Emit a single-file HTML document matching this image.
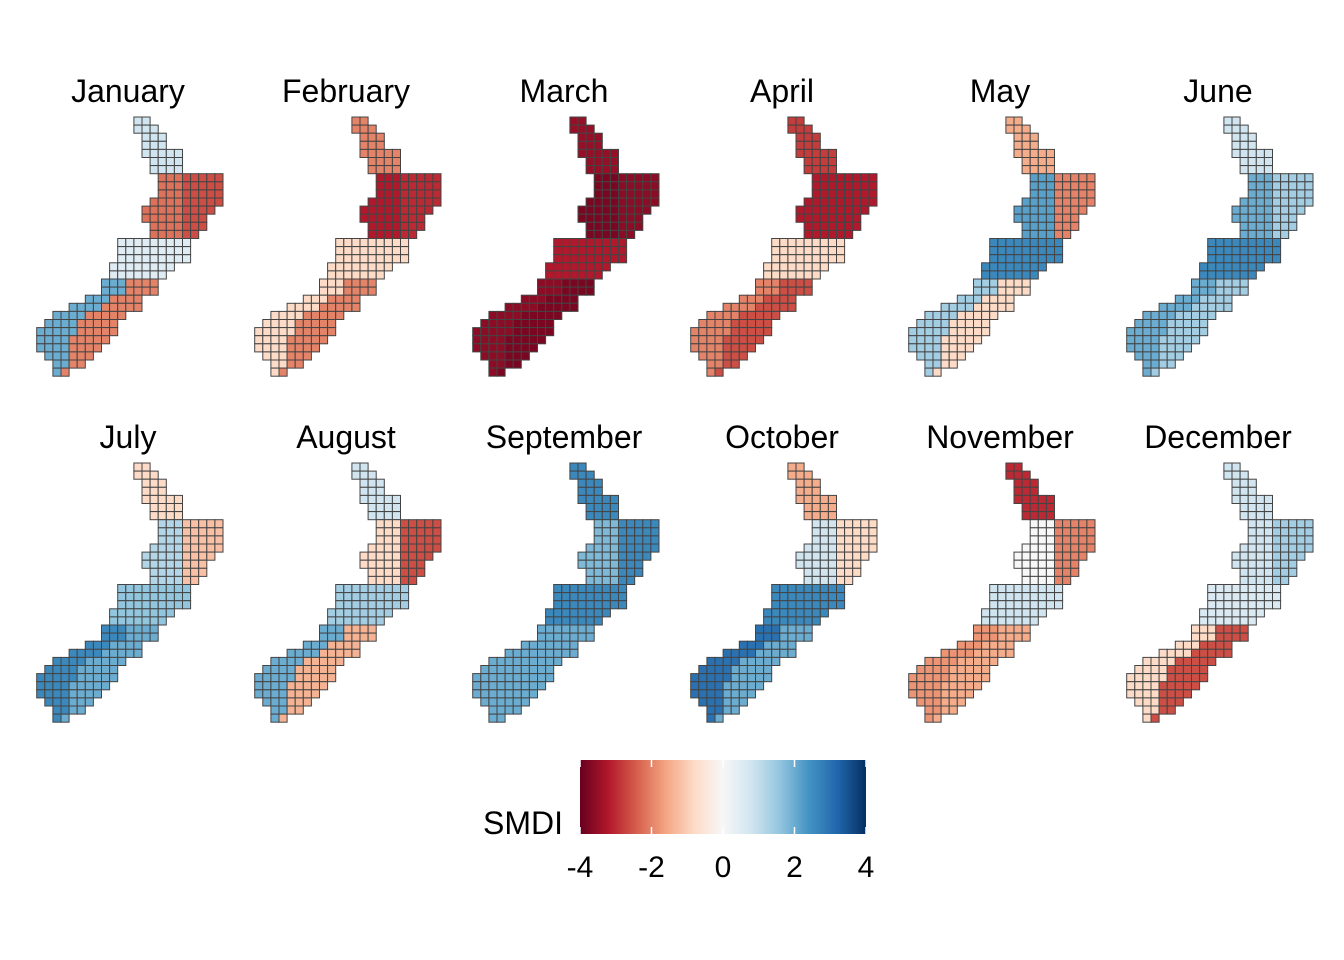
<!DOCTYPE html>
<html><head><meta charset="utf-8"><style>
body{margin:0;background:#fff;}
svg{display:block;font-family:"Liberation Sans",Arial,sans-serif;}
</style></head><body>
<svg id="chart" width="1344" height="960" viewBox="0 0 1344 960" xmlns="http://www.w3.org/2000/svg">
<defs>
<linearGradient id="cbar" x1="0" x2="1" y1="0" y2="0">
<stop offset="0" stop-color="#67001f"/><stop offset="0.1" stop-color="#b2182b"/><stop offset="0.2" stop-color="#d6604d"/><stop offset="0.3" stop-color="#f4a582"/><stop offset="0.4" stop-color="#fddbc7"/><stop offset="0.5" stop-color="#f7f7f7"/><stop offset="0.6" stop-color="#d1e5f0"/><stop offset="0.7" stop-color="#92c5de"/><stop offset="0.8" stop-color="#4393c3"/><stop offset="0.9" stop-color="#2166ac"/><stop offset="1" stop-color="#053061"/>
</linearGradient>
</defs>
<g id="panels"></g>
<g id="legend">
<rect x="580" y="760" width="286" height="74" fill="url(#cbar)"/>
<text x="563" y="834" font-size="32" text-anchor="end">SMDI</text>
<g id="cticks"></g>
</g>
</svg>
<script>
const months=["January","February","March","April","May","June","July","August","September","October","November","December"];
// region values: tip, north-island-west, north-island-east, south-north, south-west, south-east
const tipVals=[0.8,-2,-3.5,-2.8,-1.5,0.8,-0.8,0.8,2.6,-1.5,-3,0.8];
const niWestVals=[-2.2,-3.2,-3.8,-3.2,2.2,2,1.2,-0.8,1.8,0.8,0,0.8];
const niEastVals=[-2.6,-3,-3.6,-3.2,-2,1.4,-1.2,-2.6,2.6,-0.8,-2,1.4];
const siNorthVals=[0.5,-0.8,-3.2,-0.8,2.6,2.6,1.6,1.4,2.6,2.6,0.8,0.6];
const siWestVals=[2,-0.8,-3.6,-2,1.4,2,2.6,2,2,3,-1.8,-0.8];
const siEastVals=[-2,-2,-3.8,-2.6,-0.8,1.4,2,-1.4,2,2,-1.5,-2.6];
const tickVals=[-4,-2,0,2,4];
const tickLabels=["-4","-2","0","2","4"];
// grid mask rows [startCol,endCol]
const rows=[[12,13],[12,14],[13,15],[13,15],[13,17],[14,17],[14,17],[15,22],[15,22],[15,22],[14,22],[13,21],[13,20],[14,20],[14,19],[10,18],[10,18],[10,18],[9,16],[9,15],[8,14],[8,14],[6,12],[4,12],[2,10],[1,9],[0,9],[0,8],[0,7],[1,6],[2,5],[2,3]];
const stops=["#67001f","#b2182b","#d6604d","#f4a582","#fddbc7","#f7f7f7","#d1e5f0","#92c5de","#4393c3","#2166ac","#053061"];
function hx(h){return [1,3,5].map(i=>parseInt(h.substr(i,2),16));}
function color(v){let t=(Math.max(-4,Math.min(4,v))+4)/8*10;let i=Math.min(9,Math.floor(t));let f=t-i;let a=hx(stops[i]),b=hx(stops[i+1]);return "rgb("+a.map((x,k)=>Math.round(x+(b[k]-x)*f)).join(",")+")";}
const NS="http://www.w3.org/2000/svg";
const panels=document.getElementById("panels");
const cell=8.1;
function regionVal(m,r,c){
  if(r<=6) return tipVals[m];
  if(r<=14) return c<18?niWestVals[m]:niEastVals[m];
  if(r<=19) return siNorthVals[m];
  const mid=(rows[r][0]+rows[r][1])/2;
  return c<mid?siWestVals[m]:siEastVals[m];
}
months.forEach((name,m)=>{
  const col=m%6,row=Math.floor(m/6);
  const ox=36.7+218*col, oy=117+346*row;
  const g=document.createElementNS(NS,"g");
  
  
  const t=document.createElementNS(NS,"text");
  
  
  t.setAttribute("x",128+218*col);t.setAttribute("y",102+346*row);
  t.setAttribute("font-size","32");t.setAttribute("text-anchor","middle");
  t.textContent=name;g.appendChild(t);
  rows.forEach((rg,r)=>{
    for(let c=rg[0];c<=rg[1];c++){
      const rc=document.createElementNS(NS,"rect");
      
      
      rc.setAttribute("x",ox+c*cell);rc.setAttribute("y",oy+r*cell);
      rc.setAttribute("width",cell);rc.setAttribute("height",cell);
      rc.setAttribute("fill",color(regionVal(m,r,c)));
      rc.setAttribute("stroke","#444");rc.setAttribute("stroke-width","1");
      g.appendChild(rc);
    }
  });
  panels.appendChild(g);
});
const ct=document.getElementById("cticks");
tickVals.forEach((v,i)=>{
  const x=580+(v+4)/8*286;
  [[760,767],[827,834]].forEach(([a,b])=>{
    const l=document.createElementNS(NS,"line");
    
    
    l.setAttribute("x1",x);l.setAttribute("x2",x);l.setAttribute("y1",a);l.setAttribute("y2",b);
    l.setAttribute("stroke","#fff");l.setAttribute("stroke-width","1.5");ct.appendChild(l);
  });
  const t=document.createElementNS(NS,"text");
  
  
  t.setAttribute("x",x);t.setAttribute("y",877);t.setAttribute("font-size","30");t.setAttribute("text-anchor","middle");
  t.textContent=tickLabels[i];ct.appendChild(t);
});
</script>
</body></html>
